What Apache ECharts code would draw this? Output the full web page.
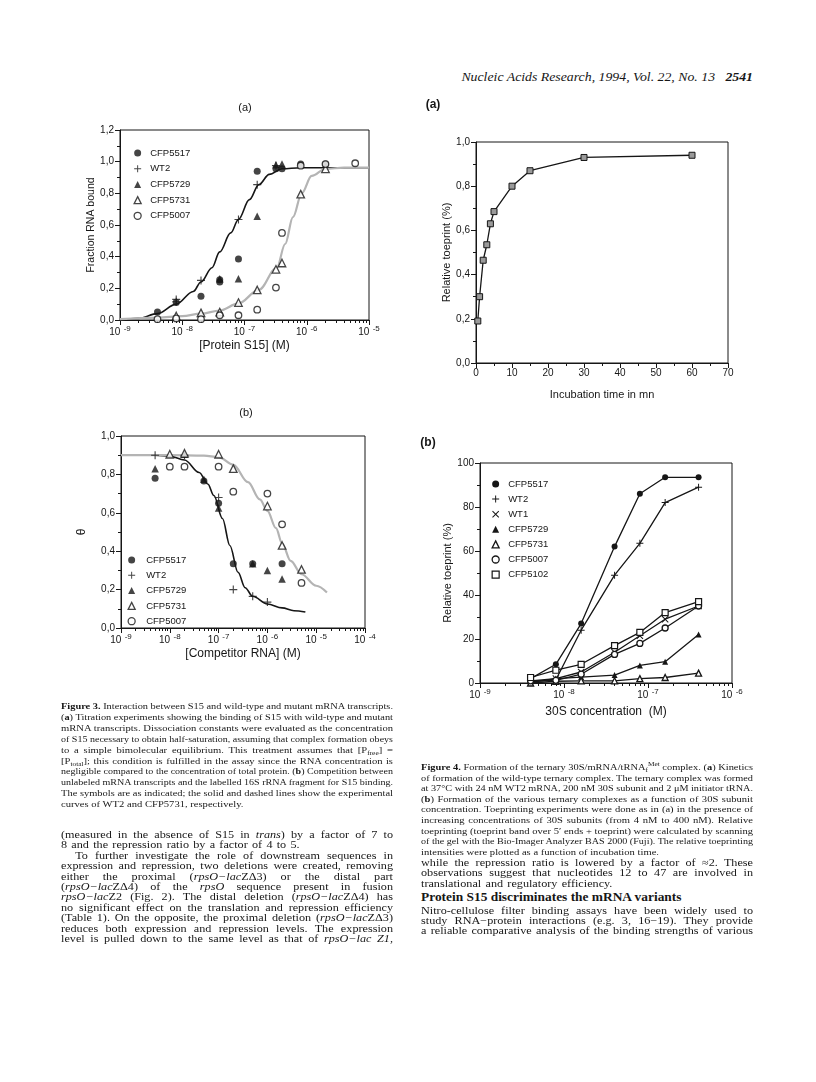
<!DOCTYPE html>
<html>
<head>
<meta charset="utf-8">
<title>Nucleic Acids Research 1994 p.2541</title>
<script src="https://cdn.jsdelivr.net/npm/echarts@6/dist/echarts.min.js"></script>
<style>
  body { margin: 0; background: #fff; }
  #page { position: relative; width: 816px; height: 1082px; overflow: hidden;
          font-family: "Liberation Serif", "Times New Roman", serif; color: #161616; }
  .chart { position: absolute; left: 0; top: 0; width: 816px; height: 1082px; }
  .ln { position: absolute; height: 14px; line-height: 14px; text-align: left; transform-origin: left center; }
  .ln.just { text-align: justify; text-align-last: justify; }
  .cap { font-size: 10.6px; }
  .body { font-size: 12.2px; word-spacing: 1.2px; }
  sub, sup { font-size: 70%; line-height: 0; }
  .head { position: absolute; right: 63px; top: 70px; font-size: 13.8px; font-style: italic; line-height: 14px;
          transform: scaleY(0.9); }
  .sect { position: absolute; left: 421px; top: 890px; font-size: 13.4px; font-weight: bold; line-height: 14px;
          transform: scaleY(0.9); }
</style>
</head>
<body>
<div id="page">
  <div class="head">Nucleic Acids Research, 1994, Vol. 22, No. 13&nbsp;&nbsp;&nbsp;<b>2541</b></div>
  <div class="sect">Protein S15 discriminates the mRNA variants</div>
  <div id="c3a" class="chart"></div>
  <div id="c3b" class="chart"></div>
  <div id="c4a" class="chart"></div>
  <div id="c4b" class="chart"></div>
</div>
<script>
// ---------- Figure 3(a): fraction RNA bound vs [Protein S15] ----------
const a_CFP5517 = [[4e-9, 0.05], [8e-9, 0.11], [2e-8, 0.15], [4e-8, 0.24], [4e-8, 0.255], [8e-8, 0.385],
                   [1.6e-7, 0.94], [3.2e-7, 0.955], [4e-7, 0.955], [8e-7, 0.985], [2e-6, 0.985]];
const a_WT2 = [[8e-9, 0.13], [8e-9, 0.115], [2e-8, 0.25], [8e-8, 0.635], [1.6e-7, 0.855], [3.2e-7, 0.975]];
const a_CFP5729 = [[4e-8, 0.26], [8e-8, 0.26], [1.6e-7, 0.655], [3.2e-7, 0.98], [4e-7, 0.985]];
const a_CFP5731 = [[8e-9, 0.025], [2e-8, 0.045], [4e-8, 0.05], [8e-8, 0.11], [1.6e-7, 0.19], [3.2e-7, 0.32],
                   [4e-7, 0.36], [8e-7, 0.795], [2e-6, 0.955]];
const a_CFP5007 = [[4e-9, 0.005], [8e-9, 0.01], [2e-8, 0.005], [4e-8, 0.03], [8e-8, 0.03], [1.6e-7, 0.065],
                   [3.2e-7, 0.205], [4e-7, 0.55], [8e-7, 0.975], [2e-6, 0.985], [6e-6, 0.99]];
// fitted curves
const a_fitWT2 = [[1e-9, 0.0], [2e-9, 0.01], [4e-9, 0.04], [8e-9, 0.10], [1.5e-8, 0.18], [2e-8, 0.24], [3e-8, 0.33],
                  [4e-8, 0.43], [6e-8, 0.55], [8e-8, 0.635], [1.2e-7, 0.76], [1.7e-7, 0.855], [2.5e-7, 0.92],
                  [4e-7, 0.955], [8e-7, 0.962], [1e-5, 0.962]];
const a_fit5731 = [[1e-9, 0.005], [4e-9, 0.015], [1e-8, 0.025], [2e-8, 0.04], [4e-8, 0.06], [8e-8, 0.105],
                   [1.7e-7, 0.19], [3.3e-7, 0.33], [4.5e-7, 0.48], [6e-7, 0.65], [8.3e-7, 0.80], [1.2e-6, 0.91],
                   [2e-6, 0.955], [4e-6, 0.962], [1e-5, 0.962]];

// ---------- Figure 3(b): theta vs [Competitor RNA] ----------
const b_CFP5517 = [[5e-9, 0.78], [5e-8, 0.765], [1e-7, 0.65], [2e-7, 0.335], [5e-7, 0.335], [2e-6, 0.335]];
const b_WT2 = [[5e-9, 0.90], [2e-8, 0.90], [1e-7, 0.68], [2e-7, 0.20], [5e-7, 0.165], [1e-6, 0.135]];
const b_CFP5729 = [[5e-9, 0.83], [2e-8, 0.905], [5e-8, 0.775], [1e-7, 0.625], [5e-7, 0.335], [1e-6, 0.30], [2e-6, 0.255]];
const b_CFP5731 = [[1e-8, 0.905], [2e-8, 0.91], [1e-7, 0.905], [2e-7, 0.83], [1e-6, 0.635], [2e-6, 0.43], [5e-6, 0.305]];
const b_CFP5007 = [[1e-8, 0.84], [2e-8, 0.84], [1e-7, 0.84], [2e-7, 0.71], [1e-6, 0.70], [2e-6, 0.54], [5e-6, 0.235]];
const b_fitWT2 = [[1e-9, 0.90], [5e-9, 0.90], [1e-8, 0.895], [2e-8, 0.875], [4e-8, 0.81], [6e-8, 0.75], [8e-8, 0.69],
                  [1.2e-7, 0.57], [1.7e-7, 0.43], [2.5e-7, 0.29], [3.5e-7, 0.21], [5e-7, 0.165], [1e-6, 0.125],
                  [2e-6, 0.105], [3.5e-6, 0.09], [6e-6, 0.083]];
const b_fit5731 = [[1e-9, 0.90], [1e-8, 0.90], [5e-8, 0.898], [1e-7, 0.89], [2e-7, 0.85], [4e-7, 0.76], [7e-7, 0.67],
                   [1e-6, 0.61], [1.5e-6, 0.52], [2e-6, 0.44], [3e-6, 0.35], [5e-6, 0.28], [1e-5, 0.22], [1.66e-5, 0.185]];

// ---------- Figure 4(a): kinetics ----------
const k_time = [0.5, 1, 2, 3, 4, 5, 10, 15, 30, 60];
const k_toeprint = [0.19, 0.30, 0.465, 0.535, 0.63, 0.685, 0.80, 0.87, 0.93, 0.94];

// ---------- Figure 4(b): toeprint vs 30S concentration ----------
const t_conc = [4e-9, 8e-9, 1.6e-8, 4e-8, 8e-8, 1.6e-7, 4e-7];
const t_CFP5517 = [2, 8.5, 27, 62, 86, 93.5, 93.5];
const t_WT2 = [0.5, 1.5, 24, 49, 63.5, 82, 89];
const t_WT1 = [1, 2, 5, 14, 21.5, 29, 35];
const t_CFP5729 = [0.3, 2, 2.7, 3.6, 8, 9.7, 22];
const t_CFP5731 = [0, 0.8, 1, 1, 2, 2.5, 4.5];
const t_CFP5007 = [1, 1.2, 4, 13, 18, 25, 35];
const t_CFP5102 = [2.5, 5.8, 8.5, 17, 23, 32, 37];

const INK = '#161616';
const SANS = 'Liberation Sans';
const PLUS = 'path://M4.3,0H5.7V4.3H10V5.7H5.7V10H4.3V5.7H0V4.3H4.3Z';
const CROSS = 'path://M1,0L5,4L9,0L10,1L6,5L10,9L9,10L5,6L1,10L0,9L4,5L0,1Z';

const SYM = {
  CFP5517: { symbol: 'circle', itemStyle: { color: INK } },
  WT2: { symbol: PLUS, itemStyle: { color: INK } },
  WT1: { symbol: CROSS, itemStyle: { color: INK } },
  CFP5729: { symbol: 'triangle', itemStyle: { color: INK } },
  CFP5731: { symbol: 'triangle', itemStyle: { color: '#fff', borderColor: INK, borderWidth: 1.3 } },
  CFP5007: { symbol: 'circle', itemStyle: { color: '#fff', borderColor: INK, borderWidth: 1.3 } },
  CFP5102: { symbol: 'rect', itemStyle: { color: '#fff', borderColor: INK, borderWidth: 1.2 } }
};

function logMinors(lo, hi) {
  let out = [];
  for (let e = lo; e < hi; e++) {
    for (let k = 2; k <= 9; k++) out.push(k * Math.pow(10, e));
  }
  return out;
}

function powLabel(v) {
  return '{b|10} {s|' + Math.round(Math.log10(v)) + '}';
}

function comma(v) {
  return v.toFixed(1).replace('.', ',');
}

function logX(min, max, name, gap) {
  return [{
    type: 'log', logBase: 10, min: min, max: max, position: 'bottom',
    name: name, nameLocation: 'middle', nameGap: gap,
    nameTextStyle: { color: INK, fontFamily: SANS, fontSize: 12 },
    axisLine: { lineStyle: { color: INK, width: 1 } },
    axisTick: { inside: false, length: 5, lineStyle: { color: INK } },
    splitLine: { show: false },
    axisLabel: {
      margin: 5, formatter: powLabel,
      rich: {
        b: { fontFamily: SANS, fontSize: 10, color: INK },
        s: { fontFamily: SANS, fontSize: 8, color: INK, padding: [0, 0, 7, 0] }
      }
    }
  }, {
    type: 'log', logBase: 10, min: min, max: max, position: 'bottom',
    axisLine: { show: false }, axisLabel: { show: false }, splitLine: { show: false },
    axisTick: { show: true, inside: false, length: 3, lineStyle: { color: INK },
                customValues: logMinors(Math.round(Math.log10(min)), Math.round(Math.log10(max))) }
  }];
}

function linY(max, interval, name, gap, fmt, nameSize) {
  return {
    type: 'value', min: 0, max: max, interval: interval,
    name: name, nameLocation: 'middle', nameGap: gap,
    nameTextStyle: { color: INK, fontFamily: SANS, fontSize: nameSize || 12 },
    axisLine: { show: true, lineStyle: { color: INK, width: 1 } },
    axisTick: { show: true, inside: false, length: 5, lineStyle: { color: INK } },
    minorTick: { show: true, splitNumber: 2, length: 3, lineStyle: { color: INK } },
    splitLine: { show: false },
    axisLabel: { margin: 6, color: INK, fontFamily: SANS, fontSize: 10, formatter: fmt }
  };
}

function pts(name, data, size) {
  return Object.assign({ type: 'scatter', name: name, data: data, symbolSize: size, z: 3, silent: true }, SYM[name]);
}

function curve(data, color, width) {
  return { type: 'line', data: data, showSymbol: false, symbol: 'none', smooth: 0.35, smoothMonotone: 'x',
           lineStyle: { color: color, width: width }, z: 2, silent: true };
}

function legendOf(names, left, top, gap, textPad) {
  return {
    orient: 'vertical', left: left, top: top, padding: 0, itemWidth: 7, itemHeight: 7, itemGap: gap,
    selectedMode: false,
    textStyle: { color: INK, fontFamily: SANS, fontSize: 9.5, lineHeight: 8, padding: [0, 0, 0, textPad] },
    data: names.map(n => ({ name: n, icon: SYM[n].symbol, itemStyle: SYM[n].itemStyle }))
  };
}

function label(x, y, text, weight, size) {
  return { type: 'text', x: x, y: y, silent: true,
           style: { text: text, fill: INK, fontFamily: SANS, fontSize: size, fontWeight: weight,
                    textAlign: 'center', textVerticalAlign: 'middle' } };
}

const frame = { show: true, borderColor: INK, borderWidth: 1, backgroundColor: 'transparent', containLabel: false };

// Figure 3(a)
echarts.init(document.getElementById('c3a')).setOption({
  animation: false,
  grid: Object.assign({ left: 120, top: 130, width: 249, height: 190 }, frame),
  graphic: [label(245, 108, '(a)', 'normal', 11)],
  legend: legendOf(['CFP5517', 'WT2', 'CFP5729', 'CFP5731', 'CFP5007'], 133.5, 148, 5.7, 4),
  xAxis: logX(1e-9, 1e-5, '[Protein S15] (M)', 20),
  yAxis: linY(1.2, 0.2, 'Fraction RNA bound', 22, comma, 10.5),
  series: [
    curve(a_fitWT2, INK, 1.6),
    curve(a_fit5731, '#b4b4b4', 2.2),
    pts('CFP5517', a_CFP5517, 7),
    pts('WT2', a_WT2, 8),
    pts('CFP5729', a_CFP5729, 7.5),
    pts('CFP5731', a_CFP5731, 7.5),
    pts('CFP5007', a_CFP5007, 6.5)
  ]
});

// Figure 3(b)
echarts.init(document.getElementById('c3b')).setOption({
  animation: false,
  grid: Object.assign({ left: 121, top: 436, width: 244, height: 192 }, frame),
  graphic: [label(246, 413, '(b)', 'normal', 11)],
  legend: legendOf(['CFP5517', 'WT2', 'CFP5729', 'CFP5731', 'CFP5007'], 127.5, 555, 5.3, 6),
  xAxis: logX(1e-9, 1e-4, '[Competitor RNA] (M)', 18),
  yAxis: linY(1.0, 0.2, 'θ', 33, comma),
  series: [
    curve(b_fitWT2, INK, 1.6),
    curve(b_fit5731, '#b4b4b4', 2.2),
    pts('CFP5517', b_CFP5517, 7),
    pts('WT2', b_WT2, 8),
    pts('CFP5729', b_CFP5729, 7.5),
    pts('CFP5731', b_CFP5731, 7.5),
    pts('CFP5007', b_CFP5007, 6.5)
  ]
});

// Figure 4(a)
echarts.init(document.getElementById('c4a')).setOption({
  animation: false,
  grid: Object.assign({ left: 476, top: 142, width: 252, height: 221 }, frame),
  graphic: [label(433, 105, '(a)', 'bold', 12)],
  xAxis: {
    type: 'value', min: 0, max: 70, interval: 10,
    name: 'Incubation time in mn', nameLocation: 'middle', nameGap: 26,
    nameTextStyle: { color: INK, fontFamily: SANS, fontSize: 11 },
    axisLine: { lineStyle: { color: INK, width: 1 } },
    axisTick: { inside: false, length: 5, lineStyle: { color: INK } },
    minorTick: { show: true, splitNumber: 2, length: 3, lineStyle: { color: INK } },
    splitLine: { show: false },
    axisLabel: { margin: 5, color: INK, fontFamily: SANS, fontSize: 10 }
  },
  yAxis: linY(1.0, 0.2, 'Relative toeprint (%)', 22, comma, 11),
  series: [{
    type: 'line', data: k_time.map((t, i) => [t, k_toeprint[i]]), symbol: 'rect', symbolSize: 6,
    lineStyle: { color: INK, width: 1.3 },
    itemStyle: { color: '#9a9a9a', borderColor: INK, borderWidth: 1 }, silent: true
  }]
});

// Figure 4(b)
const tNames = ['CFP5517', 'WT2', 'WT1', 'CFP5729', 'CFP5731', 'CFP5007', 'CFP5102'];
const tData = [t_CFP5517, t_WT2, t_WT1, t_CFP5729, t_CFP5731, t_CFP5007, t_CFP5102];
echarts.init(document.getElementById('c4b')).setOption({
  animation: false,
  grid: Object.assign({ left: 480, top: 463, width: 252, height: 220 }, frame),
  graphic: [label(428, 443, '(b)', 'bold', 12)],
  legend: legendOf(tNames, 491.5, 479, 5.1, 4),
  xAxis: logX(1e-9, 1e-6, '30S concentration  (M)', 23),
  yAxis: linY(100, 20, 'Relative toeprint (%)', 27, null, 11),
  series: tNames.map((n, k) => Object.assign({
    type: 'line', name: n, data: t_conc.map((c, i) => [c, tData[k][i]]),
    symbolSize: n === 'WT2' || n === 'WT1' ? 7 : 6,
    lineStyle: { color: INK, width: 1.3 }, silent: true
  }, SYM[n]))
});

// ---------- text ----------
const cap3 = [
  '<b>Figure 3.</b> Interaction between S15 and wild-type and mutant mRNA transcripts.',
  '(<b>a</b>) Titration experiments showing the binding of S15 with wild-type and mutant',
  'mRNA transcripts. Dissociation constants were evaluated as the concentration',
  'of S15 necessary to obtain half-saturation, assuming that complex formation obeys',
  'to a simple bimolecular equilibrium. This treatment assumes that [P<sub>free</sub>] =',
  '[P<sub>total</sub>]; this condition is fulfilled in the assay since the RNA concentration is',
  'negligible compared to the concentration of total protein. (<b>b</b>) Competition between',
  'unlabeled mRNA transcripts and the labelled 16S rRNA fragment for S15 binding.',
  'The symbols are as indicated; the solid and dashed lines show the experimental',
  'curves of WT2 and CFP5731, respectively.'
];
const cap4 = [
  '<b>Figure 4.</b> Formation of the ternary 30S/mRNA/tRNA<sub>f</sub><sup>Met</sup> complex. (<b>a</b>) Kinetics',
  'of formation of the wild-type ternary complex. The ternary complex was formed',
  'at 37°C with 24 nM WT2 mRNA, 200 nM 30S subunit and 2 μM initiator tRNA.',
  '(<b>b</b>) Formation of the various ternary complexes as a function of 30S subunit',
  'concentration. Toeprinting experiments were done as in (a) in the presence of',
  'increasing concentrations of 30S subunits (from 4 nM to 400 nM). Relative',
  'toeprinting (toeprint band over 5′ ends + toeprint) were calculated by scanning',
  'of the gel with the Bio-Imager Analyzer BAS 2000 (Fuji). The relative toeprinting',
  'intensities were plotted as a function of incubation time.'
];
const bodyLeft = [
  '(measured in the absence of S15 in <i>trans</i>) by a factor of 7 to',
  '8 and the repression ratio by a factor of 4 to 5.',
  '&nbsp;&nbsp;To further investigate the role of downstream sequences in',
  'expression and repression, two deletions were created, removing',
  'either the proximal (<i>rpsO−lac</i>ZΔ3) or the distal part',
  '(<i>rpsO−lac</i>ZΔ4) of the <i>rpsO</i> sequence present in fusion',
  '<i>rpsO−lac</i>Z2 (Fig. 2). The distal deletion (<i>rpsO−lac</i>ZΔ4) has',
  'no significant effect on the translation and repression efficiency',
  '(Table 1). On the opposite, the proximal deletion (<i>rpsO−lac</i>ZΔ3)',
  'reduces both expression and repression levels. The expression',
  'level is pulled down to the same level as that of <i>rpsO−lac Z1</i>,'
];
const bodyRight1 = [
  'while the repression ratio is lowered by a factor of ≈2. These',
  'observations suggest that nucleotides 12 to 47 are involved in',
  'translational and regulatory efficiency.'
];
const bodyRight2 = [
  'Nitro-cellulose filter binding assays have been widely used to',
  'study RNA−protein interactions (e.g. 3, 16−19). They provide',
  'a reliable comparative analysis of the binding strengths of various'
];

// one div per printed line; justified unless it ends a paragraph,
// squeezed horizontally when the natural width is wider than the column
function placeLines(lines, x, y0, step, cls, lastIdx) {
  const page = document.getElementById('page');
  const W = 332, SY = 0.86;
  lines.forEach((html, i) => {
    const d = document.createElement('div');
    d.className = 'ln ' + cls;
    d.style.left = x + 'px';
    d.style.top = (y0 + i * step - 7) + 'px';
    d.style.width = W + 'px';
    const s = document.createElement('span');
    s.style.whiteSpace = 'nowrap';
    s.innerHTML = html;
    d.appendChild(s);
    page.appendChild(d);
    const w = s.getBoundingClientRect().width;
    if (w > W) {
      d.style.width = w + 'px';
      d.style.transform = 'scale(' + (W / w) + ',' + SY + ')';
    } else {
      d.style.transform = 'scale(1,' + SY + ')';
      if (lastIdx.indexOf(i) < 0) {
        s.style.whiteSpace = 'normal';
        d.classList.add('just');
      }
    }
  });
}

placeLines(cap3, 61, 706, 10.9, 'cap', [9]);
placeLines(cap4, 421, 767, 10.6, 'cap', [8]);
placeLines(bodyLeft, 61, 835, 10.4, 'body', [1]);
placeLines(bodyRight1, 421, 863, 10.4, 'body', [2]);
placeLines(bodyRight2, 421, 910.5, 10.4, 'body', []);
</script>
</body>
</html>
